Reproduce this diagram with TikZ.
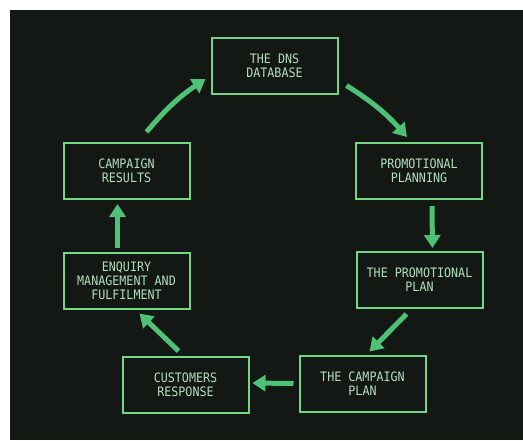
\documentclass[tikz,border=0pt]{standalone}
\usepackage{fontspec}
\newfontfamily\termfont[FakeStretch=0.9]{DejaVu Sans Mono}
\usetikzlibrary{arrows.meta}
\definecolor{screen}{HTML}{131815}
\definecolor{boxline}{HTML}{72D684}
\definecolor{boxtext}{HTML}{B2DEBA}
\definecolor{flow}{HTML}{4DC277}
\tikzset{
  stage/.style={draw=boxline, line width=2pt, rectangle, minimum width=126pt,
    minimum height=56pt, align=center, text=boxtext,
    font=\termfont\fontsize{13}{14}\selectfont, inner sep=0pt},
  flowarrow/.style={draw=flow, line width=5pt,
    -{Triangle[width=16pt,length=13pt]}}
}
\begin{document}
\begin{tikzpicture}[x=1pt,y=-1pt]
  \useasboundingbox (0,0) rectangle (523,440);
  \fill[white] (0,0) rectangle (523,440);
  \fill[screen] (10,10) rectangle (523,440);

  \node[stage] (dns)   at (274.5,65.5) {THE DNS\\DATABASE};
  \node[stage] (pp)    at (419,171)    {PROMOTIONAL\\PLANNING};
  \node[stage] (pplan) at (419.5,280)  {THE PROMOTIONAL\\PLAN};
  \node[stage] (cp)    at (362.5,383.5){THE CAMPAIGN\\PLAN};
  \node[stage] (cr)    at (185.5,385)  {CUSTOMERS\\RESPONSE};
  \node[stage] (eq)    at (126.5,280.5){ENQUIRY\\MANAGEMENT AND\\FULFILMENT};
  \node[stage] (res)   at (126.5,171)  {CAMPAIGN\\RESULTS};

  \draw[flowarrow] ([shift={(8,-9)}]dns.south east) to[bend left=8] ([shift={(-12,-5)}]pp.north);
  \draw[flowarrow] ([shift={(13,6)}]pp.south) -- ([shift={(13,-3)}]pplan.north);
  \draw[flowarrow] ([shift={(-13,5)}]pplan.south) -- ([shift={(7,-3)}]cp.north);
  \draw[flowarrow] ([shift={(-5,0)}]cp.west) -- ([shift={(3,-2)}]cr.east);
  \draw[flowarrow] ([shift={(-7,-5)}]cr.north) -- ([shift={(13,4)}]eq.south);
  \draw[flowarrow] ([shift={(-9,-4)}]eq.north) -- ([shift={(-9,4)}]res.south);
  \draw[flowarrow] ([shift={(20,-10)}]res.north) to[bend left=8] ([shift={(-5,13.5)}]dns.west);
\end{tikzpicture}
\end{document}
